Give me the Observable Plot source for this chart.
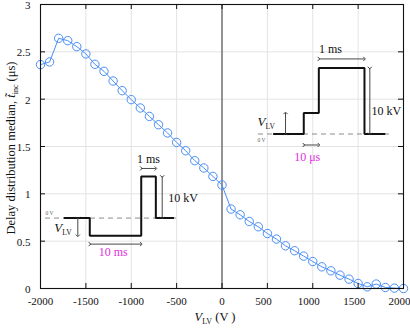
<!DOCTYPE html>
<html>
<head>
<meta charset="utf-8">
<script src="https://cdn.jsdelivr.net/npm/d3@7"></script>
<script src="https://cdn.jsdelivr.net/npm/@observablehq/plot@0.6"></script>
<style>
  html, body { margin: 0; padding: 0; background: #fff; }
  #chart svg { display: block; }
</style>
</head>
<body>
<div id="chart"></div>
<script>
// ---- data ----
const vlv = [-2000,-1900,-1800,-1700,-1600,-1500,-1400,-1300,-1200,-1100,-1000,-900,-800,-700,-600,-500,-400,-300,-200,-100,0,100,200,300,400,500,600,700,800,900,1000,1100,1200,1300,1400,1500,1600,1700,1800,1900,2000];
const median = [2.365,2.393,2.643,2.618,2.555,2.478,2.368,2.294,2.192,2.090,1.995,1.907,1.818,1.730,1.643,1.543,1.455,1.350,1.273,1.184,1.093,0.839,0.779,0.708,0.652,0.581,0.522,0.451,0.399,0.342,0.285,0.229,0.187,0.141,0.099,0.053,0.018,0.047,0.011,0.004,0.000];
const xTicksNeg = [-2000,-1500,-1000,-500,0];
const xTicksPos = [500,1000,1500,2000];
const xTicks = [...xTicksNeg, ...xTicksPos];
const yTicks = [0,0.5,1,1.5,2,2.5,3];

// inset 1 (negative V_LV pulse schematic), in data units
const wave1X = [-1735,-1457,-1457,-890,-890,-729,-729,-538];
const wave1Y = [0.744,0.744,0.557,0.557,1.184,1.184,0.744,0.744];
const dash1 = {x1:-1945, x2:-457, y:0.744};
// inset 2 (positive V_LV pulse schematic)
const wave2X = [571,901,901,1067,1067,1570,1570,1791];
const wave2Y = [1.632,1.632,1.854,1.854,2.330,2.330,1.632,1.632];
const dash2 = {x1:402, x2:1857, y:1.632};

// double arrows [x1,y1,x2,y2]
const arrowsList = [
  [-1589,0.744,-1589,0.557],
  [-1457,0.469,-890,0.469],
  [-890,1.268,-729,1.268],
  [-659,1.184,-659,0.744],
  [700,1.632,700,1.854],
  [901,1.516,1067,1.516],
  [1067,2.425,1570,2.425],
  [1629,2.330,1629,1.632]
];
// annotation texts
const msLabels = [
  {x:-810, y:1.368, t:"1 ms"},
  {x:1196, y:2.531, t:"1 ms"}
];
const kvLabels = [
  {x:-593, y:0.951, t:"10 kV"},
  {x:1647, y:1.878, t:"10 kV"}
];
const magentaLabels = [
  {x:-1199, y:0.381, t:"10 ms"},
  {x:939, y:1.392, t:"10 μs"}
];
const zeroLabels = [
  {x:-1901, y:0.79, t:"0 V"},
  {x:435, y:1.569, t:"0 V"}
];
const vlvLabels = [
  {x:-1760, y:0.645},
  {x:480, y:1.765}
];

const pts = vlv.map((v,i) => ({v, m: median[i]}));
const w1 = wave1X.map((x,i) => ({x, y: wave1Y[i]}));
const w2 = wave2X.map((x,i) => ({x, y: wave2Y[i]}));
const arrows = arrowsList.map(([x1,y1,x2,y2]) => ({x1,y1,x2,y2}));

const serif = "'Liberation Serif', 'Times New Roman', serif";
const blue = "#4a8ff5";

const chart = Plot.plot({
  width: 410,
  height: 328,
  marginLeft: 40,
  marginRight: 7,
  marginTop: 4,
  marginBottom: 40,
  style: {fontFamily: serif, fontSize: "11px", background: "#fff", color: "#111", overflow: "visible"},
  x: {domain: [-2000, 2000], label: null},
  y: {domain: [0, 3], label: null},
  marks: [
    Plot.gridX(xTicks, {stroke: "#e3e3e3", strokeOpacity: 1}),
    Plot.gridY(yTicks, {stroke: "#e3e3e3", strokeOpacity: 1}),
    Plot.ruleX([0], {stroke: "#555", strokeWidth: 1.2}),
    // inset schematics
    Plot.ruleY([dash1], {x1: "x1", x2: "x2", y: "y", stroke: "#8a8a8a", strokeDasharray: "5,4"}),
    Plot.ruleY([dash2], {x1: "x1", x2: "x2", y: "y", stroke: "#8a8a8a", strokeDasharray: "5,4"}),
    Plot.line(w1, {x: "x", y: "y", stroke: "#111", strokeWidth: 2, strokeLinejoin: "miter"}),
    Plot.line(w2, {x: "x", y: "y", stroke: "#111", strokeWidth: 2, strokeLinejoin: "miter"}),
    Plot.link(arrows, {x1: "x1", y1: "y1", x2: "x2", y2: "y2", stroke: "#333", strokeWidth: 0.9, markerStart: "arrow", markerEnd: "arrow"}),
    Plot.text(msLabels, {x: "x", y: "y", text: "t", fontSize: 12, fill: "#111"}),
    Plot.text(kvLabels, {x: "x", y: "y", text: "t", textAnchor: "start", fontSize: 12, fill: "#111"}),
    Plot.text(magentaLabels, {x: "x", y: "y", text: "t", fontSize: 12, fill: "#e02ee0"}),
    Plot.text(zeroLabels, {x: "x", y: "y", text: "t", fontSize: 5.5, fill: "#666"}),
    Plot.text(vlvLabels, {x: "x", y: "y", text: () => "V", fontSize: 13, fontStyle: "italic", textAnchor: "end", fill: "#111"}),
    Plot.text(vlvLabels, {x: "x", y: "y", text: () => "LV", fontSize: 7.5, textAnchor: "start", dy: 5, fill: "#111"}),
    // data
    Plot.line(pts, {x: "v", y: "m", stroke: blue, strokeWidth: 1}),
    Plot.dot(pts, {x: "v", y: "m", r: 4.2, stroke: blue, strokeWidth: 1, fill: "none"}),
    // box + inward ticks
    Plot.frame({stroke: "#111", strokeWidth: 1.1}),
    Plot.tickX(xTicks, {x: d => d, insetTop: 279, stroke: "#111"}),
    Plot.tickX(xTicks, {x: d => d, insetBottom: 279, stroke: "#111"}),
    Plot.tickY(yTicks, {y: d => d, insetRight: 358, stroke: "#111"}),
    Plot.tickY(yTicks, {y: d => d, insetLeft: 358, stroke: "#111"}),
    Plot.axisX(xTicksNeg, {tickSize: 0, tickPadding: 9, tickFormat: d => String(d), fontSize: 11}),
    Plot.axisX(xTicksPos, {tickSize: 0, tickPadding: 9, dx: -4, tickFormat: d => String(d), fontSize: 11}),
    Plot.axisY(yTicks, {tickSize: 0, tickPadding: 10, dy: 1, tickFormat: d => String(d), fontSize: 11})
  ]
});

document.getElementById("chart").appendChild(chart);

// axis titles with sub/superscripts
const svg = d3.select(chart);
const xl = svg.append("text")
  .attr("x", 215).attr("y", 321)
  .attr("text-anchor", "middle")
  .style("font-family", serif).style("font-size", "12.5px").attr("fill", "#111");
xl.append("tspan").style("font-style", "italic").text("V");
xl.append("tspan").attr("dy", 3).style("font-size", "8px").text("LV");
xl.append("tspan").attr("dy", -3).text(" (V )");

const yl = svg.append("text")
  .attr("transform", "translate(15,148) rotate(-90)")
  .attr("text-anchor", "middle")
  .style("font-family", serif).style("font-size", "12.5px").attr("fill", "#111");
yl.append("tspan").text("Delay distribution median, ");
yl.append("tspan").style("font-style", "italic").text("t\u0303");
yl.append("tspan").attr("dy", 3).style("font-size", "8px").text("inc");
yl.append("tspan").attr("dy", -3).text(" (μs)");
</script>
</body>
</html>
